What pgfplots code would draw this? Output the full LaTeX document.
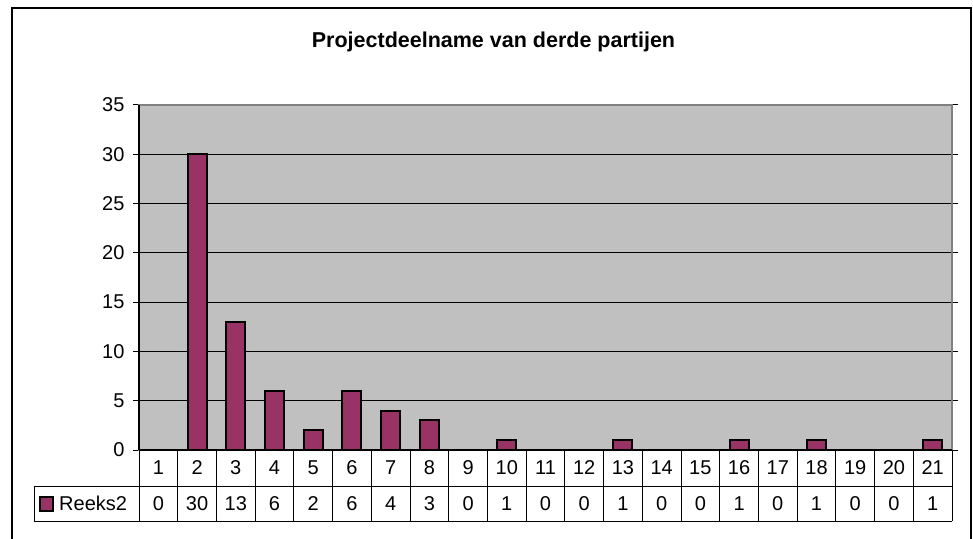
\documentclass[border=0pt]{standalone}
\usepackage{pgfplots}
\pgfplotsset{compat=1.18}
\usepackage{pgfplotstable}
\usepackage{fontspec}
\setmainfont{Liberation Sans}
\definecolor{plum}{HTML}{993366}
\definecolor{plotgray}{HTML}{C0C0C0}
\definecolor{bordergray}{HTML}{808080}

% deelnemers per project
\pgfplotstableread{
x y
1 0
2 30
3 13
4 6
5 2
6 6
7 4
8 3
9 0
10 1
11 0
12 0
13 1
14 0
15 0
16 1
17 0
18 1
19 0
20 0
21 1
}\partijen

\begin{document}
\begin{tikzpicture}[x=1pt,y=1pt]
\clip (0,0) rectangle (973,538);
\fill[white] (0,0) rectangle (973,538);
\draw[line width=2pt] (12,-20) rectangle (971,530);
\node[anchor=base, font=\bfseries\fontsize{21.5}{24}\selectfont] at (493.5,490.7) {Projectdeelname van derde partijen};

\begin{axis}[
    at={(139pt,88pt)}, anchor=south west,
    scale only axis, width=813pt, height=345pt,
    xmin=0.5, xmax=21.5, ymin=0, ymax=35,
    ytick={0,5,...,35}, xtick=\empty,
    ymajorgrids,
    major grid style={black, line width=0.8pt},
    axis background/.style={fill=plotgray},
    axis line style={bordergray, line width=2pt},
    ytick align=outside, major tick length=6pt,
    tick style={black, line width=1pt},
    tick label style={font=\fontsize{20}{24}\selectfont},
    yticklabel style={xshift=-5pt},
    /pgf/number format/assume math mode=true,
    clip=false,
]
\addplot[ybar, bar width=19pt, fill=plum, draw=black, line width=2pt] table[x=x, y=y] {\partijen};
\addplot[draw=none, nodes near coords, point meta=explicit symbolic,
    nodes near coords style={anchor=base, font=\fontsize{20}{24}\selectfont}]
    table[x=x, y expr=-2.536, meta=x] {\partijen};
\addplot[draw=none, nodes near coords, point meta=explicit symbolic,
    nodes near coords style={anchor=base, font=\fontsize{20}{24}\selectfont}]
    table[x=x, y expr=-6.107, meta=y] {\partijen};
\draw[black, line width=1.5pt] (axis cs:0.5,0) -- (axis cs:0.5,35);
\end{axis}

% gegevenstabel
\foreach \k in {0,...,21} \draw[line width=1pt] ({139+\k*38.714},88) -- ({139+\k*38.714},17);
\draw[line width=1.5pt] (139,88) -- (952,88);
\draw[line width=1pt] (34,52) -- (952,52);
\draw[line width=1pt] (34,17) -- (952,17);
\draw[line width=1pt] (34,52) -- (34,17);
\draw[fill=plum, line width=1.5pt] (40,27) rectangle (53,41);
\node[anchor=base west, inner sep=0pt, font=\fontsize{20}{24}\selectfont] at (59,27.8) {Reeks2};
\end{tikzpicture}
\end{document}
